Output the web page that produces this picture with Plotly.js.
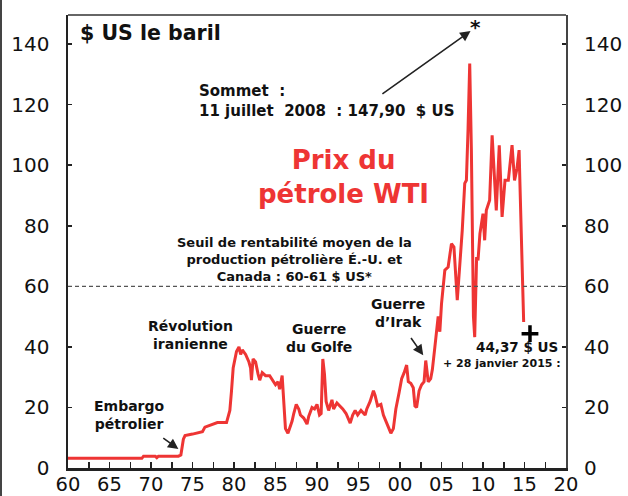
<!DOCTYPE html>
<html>
<head>
<meta charset="utf-8">
<script src="https://cdn.plot.ly/plotly-3.0.1.min.js"></script>
<style>
  html, body { margin: 0; padding: 0; background: #fff; }
  #chart { width: 628px; height: 496px; }
  #edge { position: absolute; left: 0; top: 0; width: 2px; height: 496px; background: #444; }
</style>
</head>
<body>
<div id="chart"></div>
<div id="edge"></div>
<script>
// WTI price, $US per barrel
const years = [
  1960.0, 1968.9, 1969.1, 1970.5, 1970.7, 1970.9, 1973.3, 1973.6, 1973.9, 1974.1,
  1975.0, 1975.9, 1976.2, 1976.5, 1977.2, 1978.0, 1979.1, 1979.5, 1979.7, 1979.9,
  1980.3, 1980.6, 1980.8, 1981.0, 1981.4, 1981.8, 1982.0, 1982.1, 1982.3, 1982.6,
  1982.9, 1983.1, 1983.4, 1983.8, 1984.3, 1984.7, 1985.0, 1985.3, 1985.5, 1985.8,
  1986.0, 1986.2, 1986.5, 1986.8, 1987.0, 1987.2, 1987.5, 1987.8, 1988.0, 1988.4,
  1988.8, 1989.0, 1989.4, 1989.7, 1990.0, 1990.3, 1990.5, 1990.7, 1990.9, 1991.1,
  1991.4, 1991.8, 1992.0, 1992.4, 1992.8, 1993.1, 1993.5, 1994.0, 1994.3, 1994.6,
  1994.9, 1995.3, 1995.8, 1996.0, 1996.4, 1996.8, 1997.0, 1997.3, 1997.7, 1998.0,
  1998.3, 1998.6, 1998.9, 1999.2, 1999.5, 1999.9, 2000.2, 2000.5, 2000.8, 2001.0,
  2001.3, 2001.6, 2001.8, 2002.0, 2002.3, 2002.6, 2002.9, 2003.1, 2003.4, 2003.7,
  2003.9, 2004.2, 2004.6, 2004.8, 2005.0, 2005.4, 2005.8, 2006.2, 2006.5, 2006.9,
  2007.2, 2007.5, 2007.8, 2008.0, 2008.2, 2008.4, 2008.6, 2008.75, 2008.85, 2009.0,
  2009.23, 2009.4, 2009.63, 2010.0, 2010.2, 2010.4, 2010.8, 2011.1, 2011.4, 2011.6,
  2011.96, 2012.3, 2012.65, 2013.05, 2013.5, 2013.8, 2014.1, 2014.35, 2014.45, 2014.6,
  2014.7, 2014.9
];
const prices = [
  3.2, 3.2, 3.9, 3.9, 3.4, 3.9, 3.9, 4.3, 9.5, 10.7,
  11.2, 11.8, 12.0, 13.5, 14.3, 15.0, 15.0, 19.0, 25.5, 33.0,
  38.5, 40.0, 37.5, 39.0, 37.5, 35.0, 33.0, 29.0, 36.0, 35.0,
  31.0, 29.0, 31.5, 30.5, 30.5, 29.0, 27.5, 28.5, 26.0, 30.5,
  22.0, 13.0, 11.5, 14.0, 15.5, 18.0, 21.0, 19.5, 17.5, 16.5,
  14.5, 17.0, 20.0, 19.5, 21.0, 17.5, 18.0, 36.0, 31.0, 22.0,
  19.0, 22.5, 19.5, 21.5, 20.5, 19.5, 18.0, 14.8, 17.5, 19.0,
  17.5, 19.0, 17.5, 19.5, 22.0, 25.5, 24.0, 20.5, 21.0, 17.5,
  15.5, 13.5, 11.5, 13.0, 19.5, 25.0, 29.5, 31.5, 34.0, 28.5,
  28.0, 26.5, 20.5, 20.0, 25.5, 27.5, 28.5, 35.5, 28.5, 29.5,
  32.5, 39.9, 50.1, 45.0, 54.2, 65.3, 66.4, 74.1, 73.0, 55.4,
  66.4, 78.5, 94.0, 95.0, 112.0, 133.6, 105.0, 72.0, 50.0, 43.2,
  69.7, 68.6, 77.4, 84.0, 75.2, 85.1, 88.4, 109.9, 96.1, 85.1,
  106.6, 82.9, 95.0, 95.0, 106.6, 95.0, 99.0, 105.0, 94.0, 80.0,
  66.4, 48.2
];
const lastX = [2015.66];
const lastY = [44.37];
const thresholdY = 60;
const xTickVals = [1960, 1965, 1970, 1975, 1980, 1985, 1990, 1995, 2000, 2005, 2010, 2015, 2020];
const xTickText = ['60', '65', '70', '75', '80', '85', '90', '95', '00', '05', '10', '15', '20'];
const yTickVals = [0, 20, 40, 60, 80, 100, 120, 140];

const FONT = 'DejaVu Sans, Liberation Sans, Arial, sans-serif';
const RED = '#ee3534';

const traces = [
  {
    x: years, y: prices, type: 'scatter', mode: 'lines',
    line: { color: RED, width: 3 }, hoverinfo: 'skip', showlegend: false
  },
  {
    x: lastX, y: lastY, type: 'scatter', mode: 'markers',
    marker: { symbol: 'cross-thin', size: 12, line: { width: 3.5, color: '#000' } },
    showlegend: false
  },
  {
    x: [1960], y: [0], yaxis: 'y2', type: 'scatter', mode: 'markers',
    marker: { opacity: 0 }, showlegend: false, hoverinfo: 'skip'
  }
];

const ax = {
  range: [0, 149.6], tickvals: yTickVals, ticks: 'inside', ticklen: 4, tickwidth: 1.5,
  tickcolor: '#222', showgrid: false, zeroline: false, showline: true,
  tickfont: { family: FONT, size: 20, color: '#111' }, ticklabelstandoff: 12,
  fixedrange: true
};

const boldFont = (s, c) => ({ family: FONT, size: s, color: c || '#111', weight: 'bold' });

const annotations = [
  { x: 1961.2, y: 143.6, xanchor: 'left', yanchor: 'middle', showarrow: false,
    text: '<b>$ US le baril</b>', font: boldFont(20.5) },
  { x: 1975.5, y: 128.2, xanchor: 'left', yanchor: 'top', showarrow: false, align: 'left',
    text: '<b>Sommet  :<br>11 juillet  2008  : 147,90  $ US</b>', font: boldFont(15) },
  { x: 2008.5, y: 144.3, xref: 'x', yref: 'y', ax: 1997.7, ay: 123.2, axref: 'x', ayref: 'y',
    showarrow: true, arrowhead: 2, arrowsize: 1.3, arrowwidth: 1.6, arrowcolor: '#222', text: '' },
  { x: 2009.1, y: 145.5, showarrow: false, text: '<b>*</b>', font: boldFont(20) },
  { x: 1993.2, y: 107.3, showarrow: false, text: '<b>Prix du<br>pétrole WTI</b>',
    font: boldFont(26, RED), yanchor: 'top' },
  { x: 1987.3, y: 77.7, showarrow: false, yanchor: 'top',
    text: '<b>Seuil de rentabilité moyen de la<br>production pétrolière É.-U. et<br>Canada : 60-61 $ US*</b>',
    font: boldFont(13) },
  { x: 1974.7, y: 50.2, showarrow: false, yanchor: 'top',
    text: '<b>Révolution<br>iranienne</b>', font: boldFont(14) },
  { x: 1990.2, y: 49.3, showarrow: false, yanchor: 'top',
    text: '<b>Guerre<br>du Golfe</b>', font: boldFont(14) },
  { x: 1999.7, y: 57.3, showarrow: false, yanchor: 'top',
    text: '<b>Guerre<br>d’Irak</b>', font: boldFont(14) },
  { x: 2002.8, y: 37.2, ax: 2001.2, ay: 43.4, axref: 'x', ayref: 'y',
    showarrow: true, arrowhead: 2, arrowsize: 1.3, arrowwidth: 1.6, arrowcolor: '#222', text: '' },
  { x: 1967.4, y: 23.7, showarrow: false, yanchor: 'top',
    text: '<b>Embargo<br>pétrolier</b>', font: boldFont(14) },
  { x: 1973.3, y: 6.3, ax: 1971.3, ay: 10.2, axref: 'x', ayref: 'y',
    showarrow: true, arrowhead: 2, arrowsize: 1.3, arrowwidth: 1.6, arrowcolor: '#222', text: '' },
  { x: 2014.1, y: 40.1, showarrow: false, text: '<b>44,37 $ US</b>', font: boldFont(13.5) },
  { x: 2012.3, y: 34.6, showarrow: false, text: '<b>+ 28 janvier 2015 :</b>', font: boldFont(11) }
];

const layout = {
  width: 628, height: 496,
  margin: { l: 68, r: 62, t: 15, b: 28, pad: 0 },
  paper_bgcolor: '#fff', plot_bgcolor: '#fff',
  showlegend: false,
  font: { family: FONT },
  xaxis: {
    range: [1960, 2020], tickmode: 'array', tickvals: xTickVals, ticktext: xTickText,
    ticks: 'inside', ticklen: 6, tickwidth: 1.5, tickcolor: '#222',
    minor: { tickmode: 'linear', tick0: 1960, dtick: 2.5, ticks: 'inside', ticklen: 6, tickwidth: 1.5, tickcolor: '#222' },
    showgrid: false, zeroline: false, showline: true, linecolor: '#222', linewidth: 3,
    tickfont: { family: FONT, size: 19.5, color: '#111' }, ticklabelstandoff: -3, fixedrange: true
  },
  yaxis: Object.assign({}, ax, { side: 'left', linecolor: '#222', linewidth: 2.5 }),
  yaxis2: Object.assign({}, ax, { side: 'right', overlaying: 'y', linecolor: '#444', linewidth: 2 }),
  shapes: [
    { type: 'line', xref: 'paper', yref: 'y', x0: 0, x1: 1, y0: thresholdY, y1: thresholdY,
      line: { color: '#555', width: 1.3, dash: '4px,3px' } },
    { type: 'line', xref: 'paper', yref: 'paper', x0: 0, x1: 1, y0: 1, y1: 1,
      line: { color: '#666', width: 2 } }
  ],
  annotations: annotations
};

Plotly.newPlot('chart', traces, layout, { staticPlot: true, displayModeBar: false });
</script>
</body>
</html>
